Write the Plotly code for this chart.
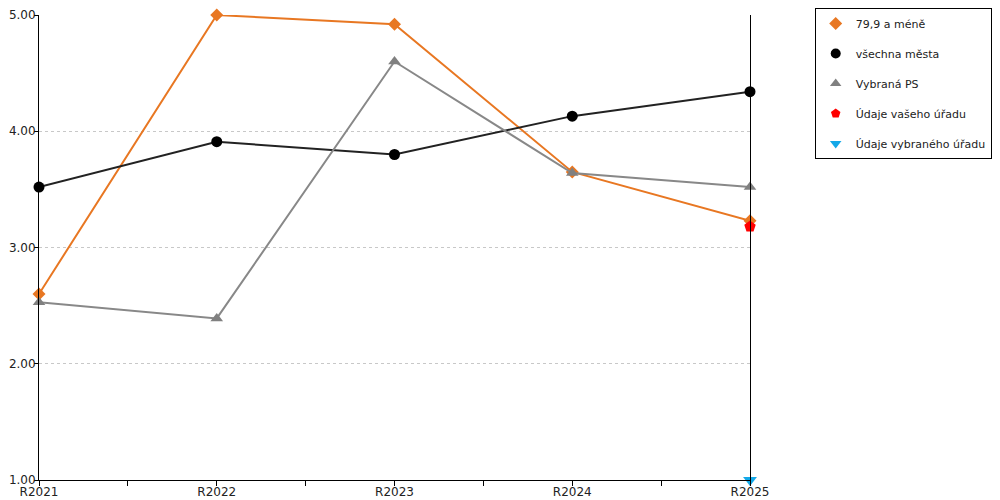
import plotly.graph_objects as go

# data
years = ['R2021', 'R2022', 'R2023', 'R2024', 'R2025']
small_towns = [2.60, 5.00, 4.92, 3.65, 3.23]      # 79,9 a méně
all_towns = [3.52, 3.91, 3.80, 4.13, 4.34]        # všechna města
chosen_ps = [2.53, 2.39, 4.60, 3.64, 3.52]        # Vybraná PS
your_office = [None, None, None, None, 3.18]       # Údaje vašeho úřadu
chosen_office = [None, None, None, None, 1.00]     # Údaje vybraného úřadu

xpos = list(range(len(years)))

series = [
    # name, values, colour, symbol, size, draw line
    ('79,9 a méně', small_towns, '#E87722', 'diamond', 10, True),
    ('všechna města', all_towns, '#000000', 'circle', 11, True),
    ('Vybraná PS', chosen_ps, '#808080', 'triangle-up', 11, True),
    ('Údaje vašeho úřadu', your_office, '#FF0000', 'pentagon', 12, False),
    ('Údaje vybraného úřadu', chosen_office, '#13A8E8', 'triangle-down', 12, False),
]

fig = go.Figure()
for i, (name, vals, col, sym, sz, line) in enumerate(series):
    linecol = {'#000000': '#222222', '#808080': '#888888'}.get(col, col)
    fig.add_trace(go.Scatter(
        x=xpos, y=vals, name=name,
        mode='lines+markers' if line else 'markers',
        line=dict(color=linecol, width=2),
        marker=dict(symbol=sym, size=sz, color=col),
        cliponaxis=False, showlegend=False))
    # legend entry with the symbol only
    fig.add_trace(go.Scatter(
        x=[None], y=[None], name=name, mode='markers',
        marker=dict(symbol=sym, size=10, color=col),
        legendgroup='g%d' % i, showlegend=True))

# ticks at every half step, labels only on the years
tickvals = [i / 2 for i in range(2 * len(years) - 1)]
ticktext = [years[int(v)] if v == int(v) else '' for v in tickvals]

# page body has an 8px margin, so the figure is a bit smaller than the window
fig.update_layout(
    width=992, height=492,
    margin=dict(l=31, r=250, t=7, b=20, autoexpand=False),
    plot_bgcolor='white', paper_bgcolor='white',
    font=dict(family='DejaVu Sans', size=12, color='#222'),
    xaxis=dict(range=[0, 4], tickvals=tickvals, ticktext=ticktext,
               showgrid=False, zeroline=False, showline=True,
               linecolor='black', linewidth=1, automargin=False,
               ticks='outside', ticklen=5, tickcolor='black',
               ticklabelstandoff=-4, ticklabeloverflow='allow'),
    yaxis=dict(range=[1, 5], dtick=1, tickformat='.2f',
               showgrid=True, gridcolor='#c8c8c8', griddash='dot',
               zeroline=False, showline=True, mirror=True,
               linecolor='black', linewidth=1, automargin=False,
               ticks='outside', ticklen=4, tickcolor='black',
               ticklabelstandoff=-4, ticklabeloverflow='allow'),
    legend=dict(x=1.091, y=1.015, xanchor='left', yanchor='top',
                bordercolor='black', borderwidth=1,
                tracegroupgap=11, itemwidth=30,
                font=dict(size=11)),
)

fig.write_html("out.html")
